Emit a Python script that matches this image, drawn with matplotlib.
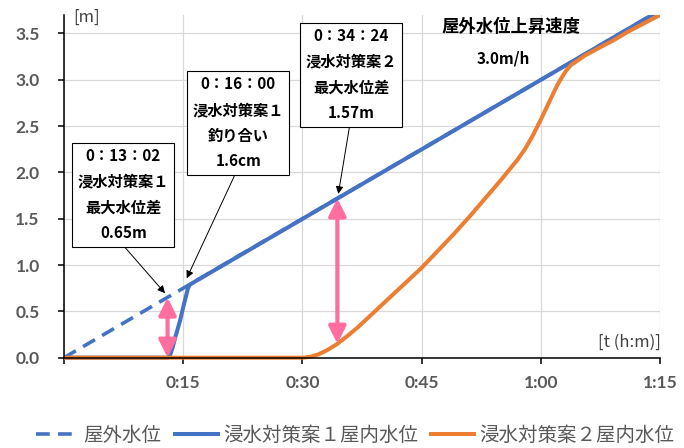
import matplotlib

matplotlib.use("Agg")

import matplotlib.pyplot as plt
from matplotlib.patches import Rectangle

plt.rcParams["font.family"] = ["Noto Sans CJK JP", "DejaVu Sans"]

# time in minutes, water level in metres
t_out = [0, 75]
h_out = [0, 3.75]  # 3.0 m/h

t_case1 = [0, 13.1, 13.4, 13.7, 14.0, 14.6, 15.1, 15.6, 15.85, 75]
h_case1 = [0, 0, 0.04, 0.12, 0.22, 0.40, 0.58, 0.75, 0.79, 3.75]

t_case2 = [0, 30.1, 31.0, 32.0, 33.2, 34.4, 35.6, 37.0, 39.0, 41.0, 43.0,
           45.0, 47.0, 49.0, 51.0, 53.0, 55.0, 57.0, 58.0, 59.0, 60.0,
           61.0, 62.0, 62.6, 63.2, 63.8, 64.5, 65.5, 67.0, 69.0, 71.0,
           73.0, 75.0]
h_case2 = [0, 0, 0.01, 0.035, 0.085, 0.15, 0.23, 0.33, 0.49, 0.65, 0.81,
           0.97, 1.15, 1.33, 1.52, 1.72, 1.92, 2.13, 2.25, 2.40, 2.57,
           2.75, 2.93, 3.02, 3.10, 3.16, 3.20, 3.26, 3.33, 3.42, 3.52,
           3.61, 3.70]

x_ticks = [0, 15, 30, 45, 60, 75]
x_labels = ["", "0:15", "0:30", "0:45", "1:00", "1:15"]
y_ticks = [0.0, 0.5, 1.0, 1.5, 2.0, 2.5, 3.0, 3.5]

series_names = ["屋外水位", "浸水対策案１屋内水位", "浸水対策案２屋内水位"]

# annotation boxes: text, box centre, arrow tip, start point on box
notes = [
    ("0：13：02\n浸水対策案１\n最大水位差\n0.65m", (7.46, 1.76), (12.71, 0.696), (0.46, 0)),
    ("0：16：00\n浸水対策案１\n釣り合い\n1.6cm", (21.93, 2.535), (15.44, 0.857), (0.49, 0)),
    ("0：34：24\n浸水対策案２\n最大水位差\n1.57m", (36.15, 3.054), (34.52, 1.768), (0.49, 0)),
]

# max level difference markers: time, lower level, upper level
gap_t = [13.03, 34.4]
gap_lo = [0.0, 0.15]
gap_hi = [0.65, 1.72]

BLUE = "#4472C4"
ORANGE = "#ED7D31"
PINK = "#FF6E9E"
GRAY = "#595959"

fig = plt.figure(figsize=(6.84, 4.48), dpi=100)
ax = fig.add_axes([0.0936, 0.2016, 0.8713, 0.765])

clip = Rectangle((0, -0.03), 1, 1.03, transform=ax.transAxes, visible=False)
ax.add_patch(clip)

l0, = ax.plot(t_out, h_out, color=BLUE, lw=2.6, ls=(0, (3.8, 2.3)),
              dash_capstyle="butt", zorder=2)
l1, = ax.plot(t_case1, h_case1, color=BLUE, lw=2.9, zorder=3,
              solid_joinstyle="round")
l2, = ax.plot(t_case2, h_case2, color=ORANGE, lw=2.9, zorder=4,
              solid_joinstyle="round")
for ln in (l0, l1, l2):
    ln.set_clip_path(clip)

for t, lo, hi in zip(gap_t, gap_lo, gap_hi):
    ax.annotate("", xy=(t, hi), xytext=(t, lo),
                arrowprops=dict(arrowstyle="<|-|>", color=PINK, lw=3,
                                mutation_scale=26, shrinkA=0, shrinkB=0),
                zorder=6)

for text, pos, tip, rel in notes:
    ax.annotate(text, xy=tip, xytext=pos, ha="center", va="center",
                fontsize=11, fontweight="bold", linespacing=1.75,
                color="black", zorder=7,
                bbox=dict(boxstyle="square,pad=0.35", fc="white",
                          ec="black", lw=0.8),
                arrowprops=dict(arrowstyle="-|>", color="black", lw=0.7,
                                mutation_scale=11, relpos=rel,
                                shrinkA=0, shrinkB=0))

ax.set_xlim(0, 75)
ax.set_ylim(0, 3.7)
ax.set_xticks(x_ticks)
ax.set_xticklabels(x_labels)
ax.set_yticks(y_ticks)
ax.set_yticklabels([f"{v:.1f}" for v in y_ticks])
for lab in ax.get_xticklabels() + ax.get_yticklabels():
    lab.set_fontfamily("Lato")
    lab.set_fontweight("bold")
    lab.set_fontsize(12.5)
    lab.set_color(GRAY)

ax.tick_params(axis="y", length=4.5, width=1.1, pad=13, direction="out")
ax.tick_params(axis="x", length=4.5, width=1.1, pad=8, direction="out")

ax.grid(True, color="#D9D9D9", lw=0.9)
ax.set_axisbelow(True)
for side in ("top", "right"):
    ax.spines[side].set_visible(False)
for side in ("left", "bottom"):
    ax.spines[side].set_color("black")
    ax.spines[side].set_linewidth(1.1)
    ax.spines[side].set_zorder(5)

fig.text(73 / 684, 1 - 17 / 448, "[m]", fontsize=12, color="#404040",
         ha="left", va="center")
fig.text(661 / 684, 1 - 342 / 448, "[t (h:m)]", fontsize=12, color="#404040",
         ha="right", va="center")
fig.text(511 / 684, 1 - 27 / 448, "屋外水位上昇速度", fontsize=12.5,
         fontweight="bold", color="black", ha="center", va="center")
fig.text(503 / 684, 1 - 58 / 448, "3.0m/h", fontsize=11,
         fontweight="bold", color="black", ha="center", va="center")

leg = fig.legend([l0, l1, l2], series_names, loc="center", ncol=3,
                 bbox_to_anchor=(0.519, 1 - 435 / 448), frameon=False,
                 fontsize=14, handlelength=2.2, handletextpad=0.25,
                 columnspacing=0.7, borderaxespad=0)
for txt in leg.get_texts():
    txt.set_color(GRAY)

fig.savefig("out.png", dpi=100)
